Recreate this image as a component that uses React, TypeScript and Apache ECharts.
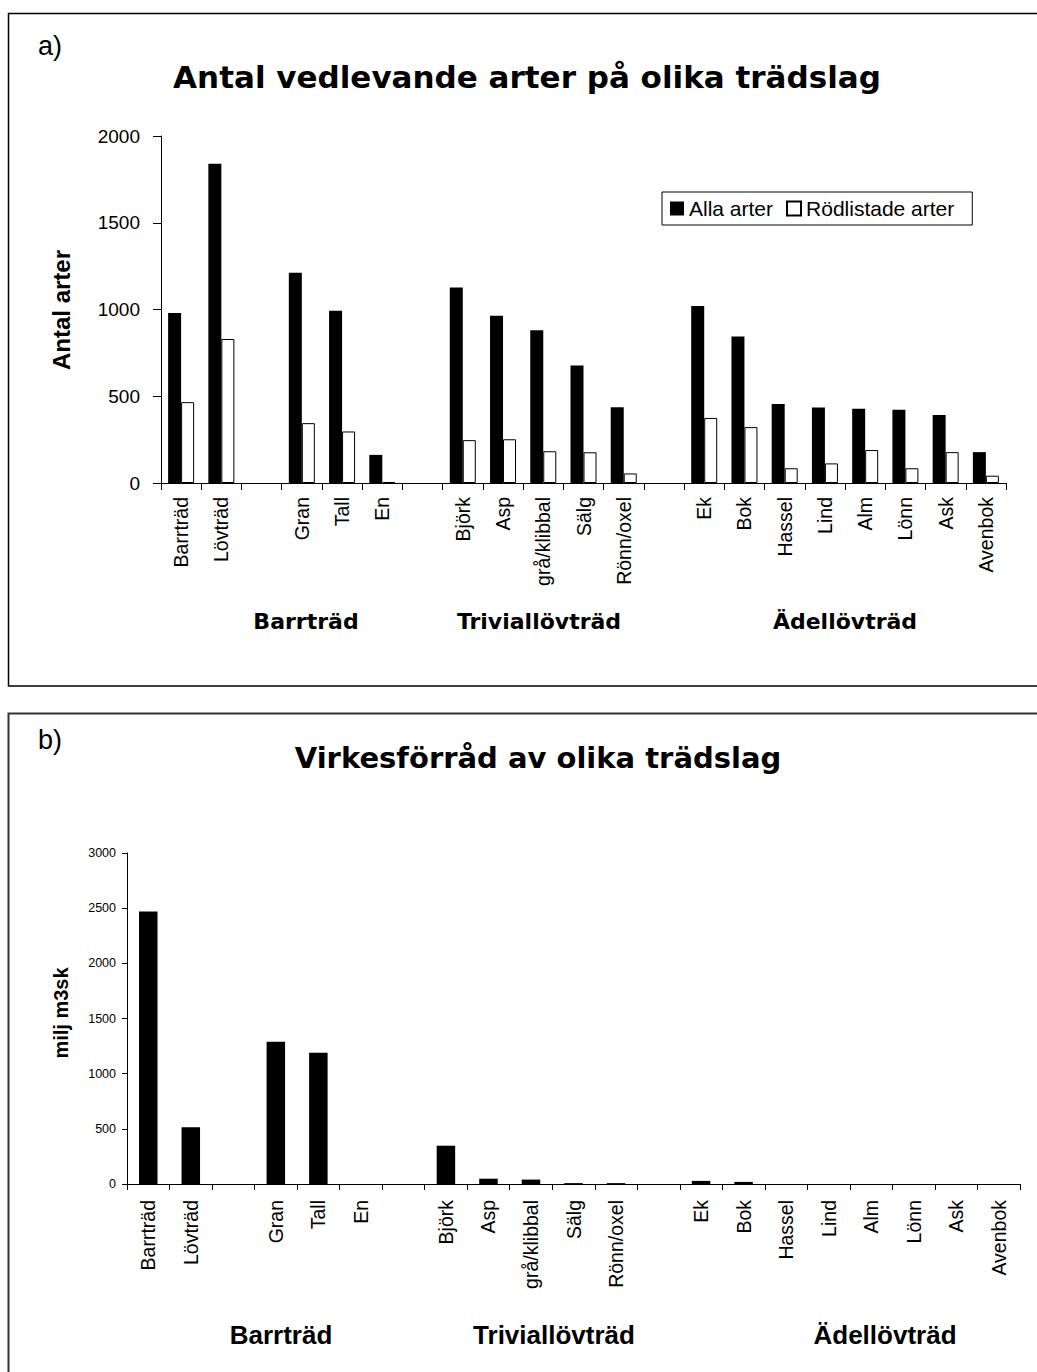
import React, { useEffect, useRef } from 'react';
import * as echarts from 'echarts';

// ---------- data ----------
const categories = [
  'Barrträd', 'Lövträd', '',
  'Gran', 'Tall', 'En', '',
  'Björk', 'Asp', 'grå/klibbal', 'Sälg', 'Rönn/oxel', '',
  'Ek', 'Bok', 'Hassel', 'Lind', 'Alm', 'Lönn', 'Ask', 'Avenbok',
];
const allaArter = [980, 1840, null, 1212, 993, 162, null, 1127, 964, 880, 677, 436, null, 1020, 845, 455, 435, 428, 422, 392, 178];
const rodlistadeArter = [466, 830, null, 345, 297, 6, null, 247, 252, 183, 177, 55, null, 375, 322, 85, 113, 190, 85, 178, 42];
const virkesforrad = [2470, 515, null, 1290, 1190, 0, null, 347, 48, 40, 8, 8, null, 28, 19, 0, 0, 0, 0, 0, 0];
const groupNames = ['Barrträd', 'Triviallövträd', 'Ädellövträd'];
const seriesNames = ['Alla arter', 'Rödlistade arter'];
const titleA = 'Antal vedlevande arter på olika trädslag';
const titleB = 'Virkesförråd av olika trädslag';
const yNameA = 'Antal arter';
const yNameB = 'milj m3sk';

const FONT = "'Liberation Sans', Arial, sans-serif";
const FONT_W = "'DejaVu Sans', sans-serif";

function text(x: number, y: number, t: string, size: number, family: string, weight = 'normal', rot = 0, align = 'center') {
  return {
    type: 'text', x, y, rotation: rot, silent: true, z: 10,
    style: { text: t, fontSize: size, fontFamily: family, fontWeight: weight, fill: '#000', align, verticalAlign: 'middle' },
  };
}

const plain = (v: number) => String(v);

export default function App() {
  const ref = useRef<HTMLDivElement>(null);
  useEffect(() => {
    if (!ref.current) return;
    const chart = echarts.init(ref.current, undefined, { renderer: 'svg' });
    const groupCentersA = [306, 539, 845];
    const groupCentersB = [281, 554, 885];
    const option: any = {
      animation: false,
      backgroundColor: '#ffffff',
      grid: [
        { left: 161, right: 31, top: 136, bottom: 889 },
        { left: 127, right: 17, top: 853, bottom: 188 },
      ],
      xAxis: [
        {
          gridIndex: 0, type: 'category', data: categories,
          axisLine: { lineStyle: { color: '#000', width: 1 } },
          axisTick: { show: true, interval: 0, length: 7, lineStyle: { color: '#000' } },
          axisLabel: { interval: 0, rotate: 90, margin: 14, fontFamily: FONT, fontSize: 19.5, color: '#000' },
          splitLine: { show: false },
        },
        {
          gridIndex: 1, type: 'category', data: categories,
          axisLine: { lineStyle: { color: '#000', width: 1 } },
          axisTick: { show: true, interval: 0, length: 6, lineStyle: { color: '#000' } },
          axisLabel: { interval: 0, rotate: 90, margin: 16, fontFamily: FONT, fontSize: 19.5, color: '#000' },
          splitLine: { show: false },
        },
      ],
      yAxis: [
        {
          gridIndex: 0, type: 'value', min: 0, max: 2000, interval: 500,
          axisLine: { show: true, lineStyle: { color: '#000', width: 1 } },
          axisTick: { show: true, length: 8, lineStyle: { color: '#000' } },
          axisLabel: { margin: 21, fontFamily: FONT, fontSize: 19, color: '#000', formatter: plain },
          splitLine: { show: false },
        },
        {
          gridIndex: 1, type: 'value', min: 0, max: 3000, interval: 500,
          axisLine: { show: true, lineStyle: { color: '#000', width: 1 } },
          axisTick: { show: true, length: 5, lineStyle: { color: '#000' } },
          axisLabel: { margin: 11, fontFamily: FONT, fontSize: 12.5, color: '#000', formatter: plain },
          splitLine: { show: false },
        },
      ],
      legend: {
        left: 662, top: 192, orient: 'horizontal', data: seriesNames,
        icon: 'rect', itemWidth: 14, itemHeight: 14, itemGap: 13,
        borderColor: '#000', borderWidth: 1, padding: [6, 18, 6, 8],
        textStyle: { fontFamily: FONT, fontSize: 21, color: '#000' },
      },
      series: [
        {
          type: 'bar', name: seriesNames[0], xAxisIndex: 0, yAxisIndex: 0, data: allaArter,
          barWidth: 13, barGap: '0%', itemStyle: { color: '#000' },
        },
        {
          type: 'bar', name: seriesNames[1], xAxisIndex: 0, yAxisIndex: 0, data: rodlistadeArter,
          barWidth: 13, barGap: '0%', itemStyle: { color: '#fff', borderColor: '#000', borderWidth: 1 },
        },
        {
          type: 'bar', name: 'Virkesförråd', xAxisIndex: 1, yAxisIndex: 1, data: virkesforrad,
          barWidth: 18.5, itemStyle: { color: '#000' },
        },
      ],
      graphic: [
        { type: 'rect', silent: true, z: 0, shape: { x: 8.5, y: 13.5, width: 1100, height: 672.5 }, style: { fill: 'none', stroke: '#000', lineWidth: 1.5 } },
        { type: 'rect', silent: true, z: 0, shape: { x: 8.5, y: 713.5, width: 1100, height: 700 }, style: { fill: 'none', stroke: '#333', lineWidth: 2 } },
        text(38, 46, 'a)', 27, FONT, 'normal', 0, 'left'),
        text(527, 77, titleA, 31, FONT_W, 'bold'),
        text(61, 310, yNameA, 24, FONT, 'bold', Math.PI / 2),
        ...groupNames.map((g, i) => text(groupCentersA[i], 621, g, 22, FONT_W, 'bold')),
        text(38, 740, 'b)', 27, FONT, 'normal', 0, 'left'),
        text(538, 758, titleB, 29, FONT_W, 'bold'),
        text(61, 1013, yNameB, 20, FONT, 'bold', Math.PI / 2),
        ...groupNames.map((g, i) => text(groupCentersB[i], 1335, g, 26, FONT, 'bold')),
      ],
    };
    chart.setOption(option);
    return () => chart.dispose();
  }, []);
  return <div ref={ref} style={{ position: 'absolute', left: 0, top: 0, width: 1037, height: 1372 }} />;
}
